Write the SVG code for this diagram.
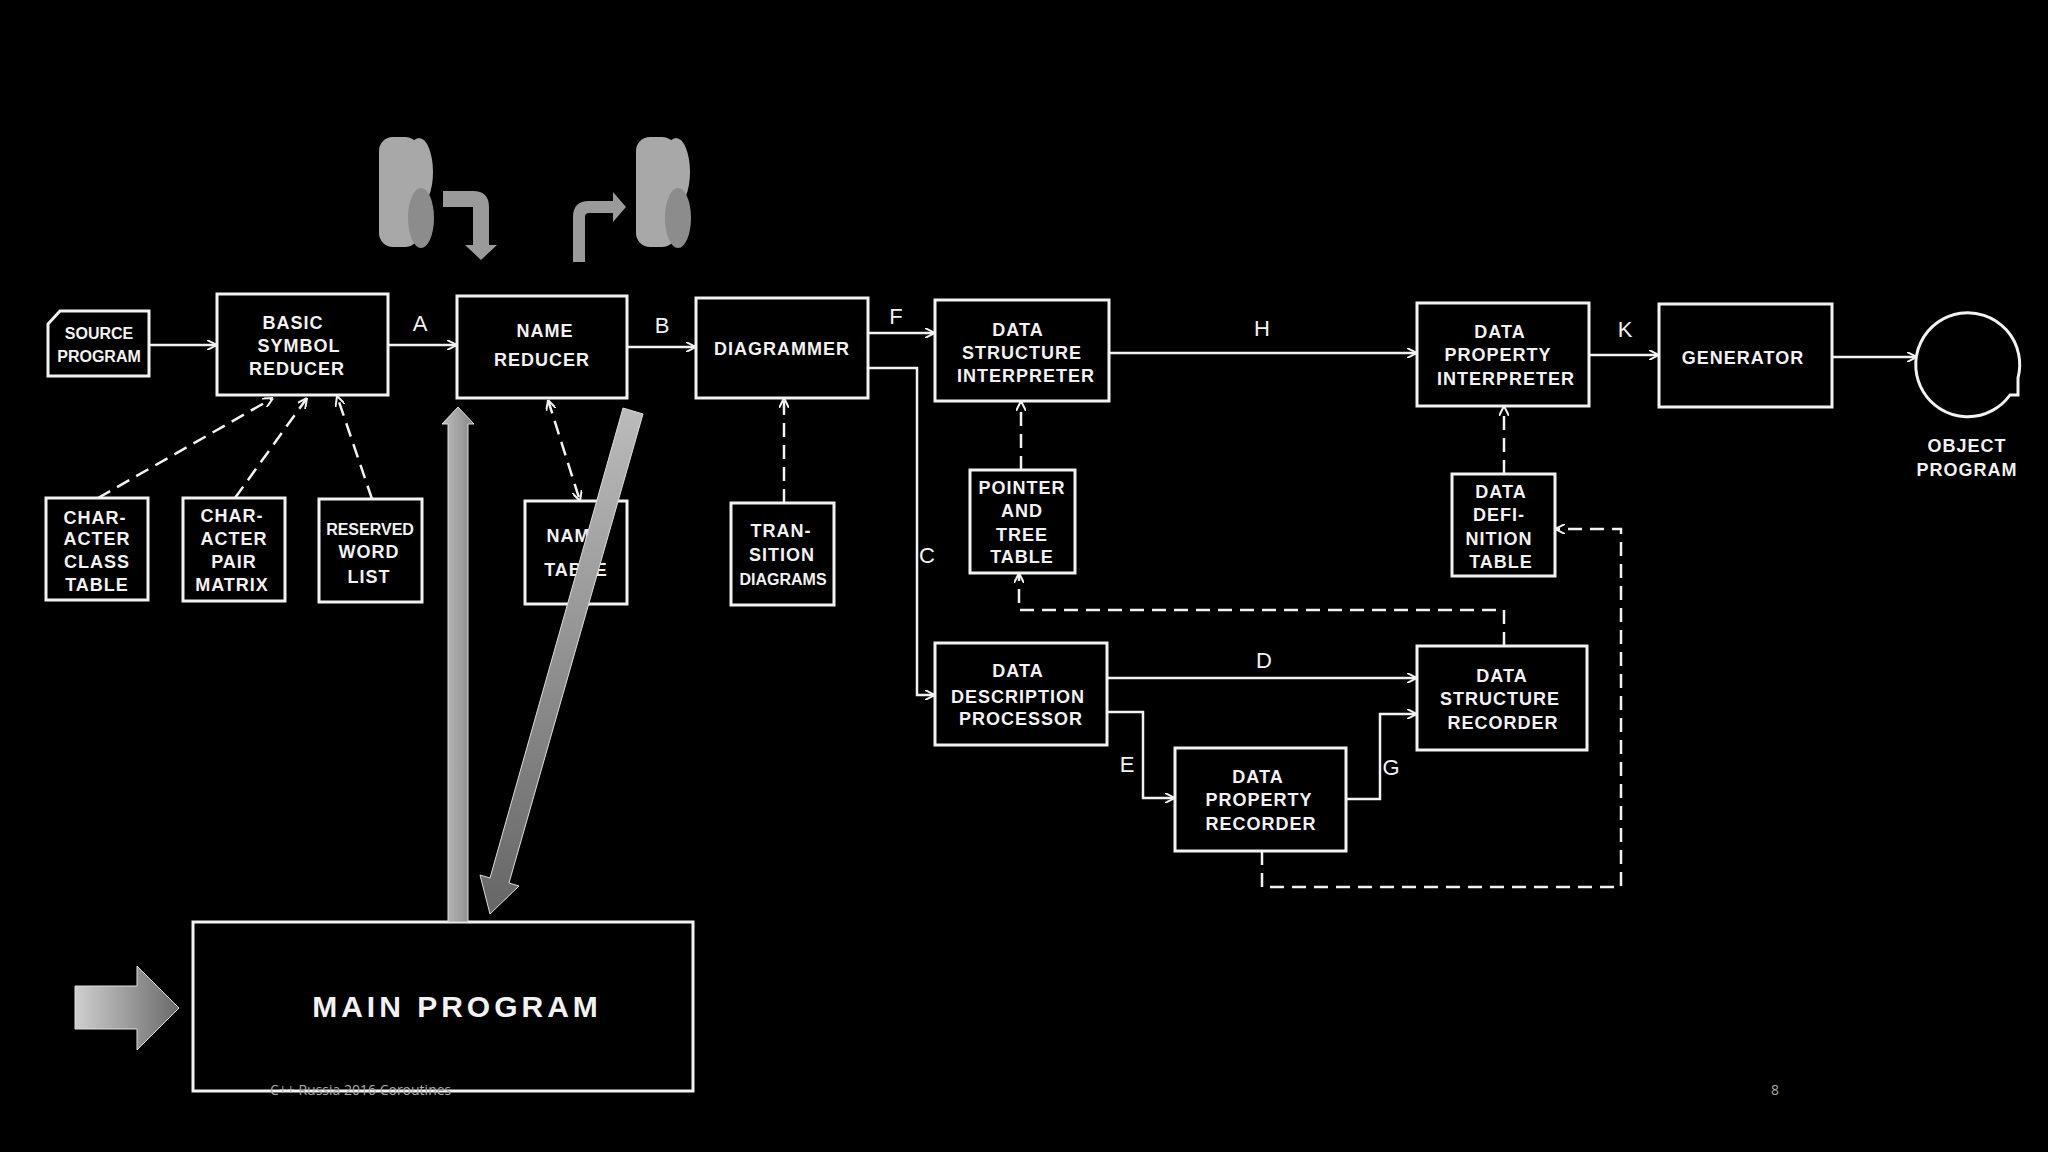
<svg xmlns="http://www.w3.org/2000/svg" width="2048" height="1152" viewBox="0 0 2048 1152">
<style>
.b{fill:#000;stroke:#f2f2f2;stroke-width:3}
.t{font-family:"Liberation Sans",Arial,sans-serif;font-weight:bold;font-size:18px;fill:#f2f2f2;text-anchor:middle;letter-spacing:1px}
.l{font-family:"Liberation Sans",Arial,sans-serif;font-size:22px;fill:#f2f2f2;text-anchor:middle}
.c{fill:none;stroke:#f2f2f2;stroke-width:2.5}
.d{stroke-dasharray:14 8}
</style>
<defs>
<marker id="a" viewBox="0 0 10 10" refX="10" refY="5" markerWidth="10" markerHeight="10" markerUnits="userSpaceOnUse" orient="auto-start-reverse"><path d="M0,0 L10,5 L0,10" fill="none" stroke="#f2f2f2" stroke-width="2"/></marker>
<linearGradient id="g1" x1="0" x2="1" y1="0" y2="0"><stop offset="0" stop-color="#cfcfcf"/><stop offset="1" stop-color="#6a6a6a"/></linearGradient>
<linearGradient id="g2" x1="0" x2="1" y1="0" y2="0"><stop offset="0" stop-color="#bdbdbd"/><stop offset="1" stop-color="#888"/></linearGradient>
<linearGradient id="g3" x1="0" x2="0" y1="0" y2="1"><stop offset="0" stop-color="#bbb"/><stop offset="1" stop-color="#666"/></linearGradient>
</defs>
<rect width="2048" height="1152" fill="#000"/>

<g id="tapes">
<g fill="#a8a8a8">
<rect x="379" y="137" width="40" height="110" rx="14"/>
<ellipse cx="419" cy="172" rx="14" ry="34"/>
<ellipse cx="421" cy="218" rx="13" ry="30" fill="#8c8c8c"/>
<rect x="636" y="137" width="40" height="110" rx="14"/>
<ellipse cx="676" cy="172" rx="14" ry="34"/>
<ellipse cx="678" cy="218" rx="13" ry="30" fill="#8c8c8c"/>
</g>
<path d="M443,191 H473 Q489,191 489,207 V245 H497 L481,260 L465,245 H473 V207 H443 Z" fill="#9a9a9a"/>
<path d="M573,262 V217 Q573,201 589,201 H613 V192 L626,207 L613,222 V213 H589 Q585,213 585,217 V262 Z" fill="#9a9a9a"/>
</g>

<g id="source"><path class="b" d="M60,311 H149 V376 H48 V324 Z"/><text class="t" x="99" y="339" style="font-size:16px;letter-spacing:0">SOURCE</text><text class="t" x="99" y="362" style="font-size:16px;letter-spacing:0">PROGRAM</text></g>
<g id="bsr"><rect class="b" x="217" y="294" width="171" height="101"/><text class="t" x="293" y="329">BASIC</text><text class="t" x="299" y="352">SYMBOL</text><text class="t" x="297" y="375">REDUCER</text></g>
<g id="nr"><rect class="b" x="457" y="296" width="170" height="102"/><text class="t" x="545" y="337">NAME</text><text class="t" x="542" y="366">REDUCER</text></g>
<g id="diag"><rect class="b" x="696" y="298" width="172" height="100"/><text class="t" x="782" y="355">DIAGRAMMER</text></g>
<g id="dsi"><rect class="b" x="935" y="300" width="174" height="101"/><text class="t" x="1018" y="336">DATA</text><text class="t" x="1022" y="359">STRUCTURE</text><text class="t" x="1026" y="382">INTERPRETER</text></g>
<g id="dpi"><rect class="b" x="1417" y="303" width="172" height="103"/><text class="t" x="1500" y="338">DATA</text><text class="t" x="1498" y="361">PROPERTY</text><text class="t" x="1506" y="385">INTERPRETER</text></g>
<g id="gen"><rect class="b" x="1659" y="304" width="173" height="103"/><text class="t" x="1743" y="364">GENERATOR</text></g>
<g id="obj"><path class="b" d="M2018,395 V378 A52,52 0 1 0 2010,395 Z"/><text class="t" x="1967" y="452">OBJECT</text><text class="t" x="1967" y="476">PROGRAM</text></g>

<g id="cct"><rect class="b" x="46" y="498" width="102" height="102"/><text class="t" x="95" y="524">CHAR-</text><text class="t" x="97" y="545">ACTER</text><text class="t" x="97" y="568">CLASS</text><text class="t" x="97" y="591">TABLE</text></g>
<g id="cpm"><rect class="b" x="183" y="498" width="102" height="103"/><text class="t" x="232" y="522">CHAR-</text><text class="t" x="234" y="545">ACTER</text><text class="t" x="234" y="568">PAIR</text><text class="t" x="232" y="591">MATRIX</text></g>
<g id="rwl"><rect class="b" x="319" y="499" width="103" height="103"/><text class="t" x="370" y="535" style="font-size:16px;letter-spacing:0">RESERVED</text><text class="t" x="369" y="558">WORD</text><text class="t" x="369" y="583">LIST</text></g>
<g id="nt"><rect class="b" x="525" y="501" width="102" height="103"/><text class="t" x="575" y="542">NAME</text><text class="t" x="576" y="576">TABLE</text></g>
<g id="td"><rect class="b" x="731" y="503" width="103" height="102"/><text class="t" x="781" y="537">TRAN-</text><text class="t" x="782" y="561">SITION</text><text class="t" x="783" y="585" style="font-size:16px;letter-spacing:0">DIAGRAMS</text></g>
<g id="ptt"><rect class="b" x="970" y="470" width="105" height="103"/><text class="t" x="1022" y="494">POINTER</text><text class="t" x="1022" y="517">AND</text><text class="t" x="1022" y="541">TREE</text><text class="t" x="1022" y="563">TABLE</text></g>
<g id="ddt"><rect class="b" x="1452" y="474" width="103" height="102"/><text class="t" x="1501" y="498">DATA</text><text class="t" x="1499" y="521">DEFI-</text><text class="t" x="1499" y="545">NITION</text><text class="t" x="1501" y="568">TABLE</text></g>
<g id="ddp"><rect class="b" x="935" y="643" width="172" height="102"/><text class="t" x="1018" y="677">DATA</text><text class="t" x="1018" y="703">DESCRIPTION</text><text class="t" x="1021" y="725">PROCESSOR</text></g>
<g id="dsr"><rect class="b" x="1417" y="646" width="170" height="104"/><text class="t" x="1502" y="682">DATA</text><text class="t" x="1500" y="705">STRUCTURE</text><text class="t" x="1503" y="729">RECORDER</text></g>
<g id="dpr"><rect class="b" x="1175" y="748" width="171" height="103"/><text class="t" x="1258" y="783">DATA</text><text class="t" x="1259" y="806">PROPERTY</text><text class="t" x="1261" y="830">RECORDER</text></g>

<g id="connectors">
<path class="c" marker-end="url(#a)" d="M149,345 H217"/>
<path class="c" marker-end="url(#a)" d="M388,345 H457"/>
<path class="c" marker-end="url(#a)" d="M627,347 H696"/>
<path class="c" marker-end="url(#a)" d="M868,333 H935"/>
<path class="c" marker-end="url(#a)" d="M868,368 H917 V695 H935"/>
<path class="c" marker-end="url(#a)" d="M1109,353 H1417"/>
<path class="c" marker-end="url(#a)" d="M1589,355 H1659"/>
<path class="c" marker-end="url(#a)" d="M1832,357 H1917"/>
<path class="c" marker-end="url(#a)" d="M1107,678 H1417"/>
<path class="c" marker-end="url(#a)" d="M1107,712 H1143 V798 H1175"/>
<path class="c" marker-end="url(#a)" d="M1346,799 H1380 V714 H1417"/>
<path class="c d" marker-end="url(#a)" d="M98,498 L273,398"/>
<path class="c d" marker-end="url(#a)" d="M235,498 L307,398"/>
<path class="c d" marker-end="url(#a)" d="M372,499 L337,396"/>
<path class="c d" marker-start="url(#a)" marker-end="url(#a)" d="M548,400 L580,501"/>
<path class="c d" marker-end="url(#a)" d="M784,503 V398"/>
<path class="c d" marker-end="url(#a)" d="M1021,470 V401"/>
<path class="c d" marker-end="url(#a)" d="M1504,474 V406"/>
<path class="c d" marker-end="url(#a)" d="M1504,646 V610 H1019 V573"/>
<path class="c d" marker-end="url(#a)" d="M1262,851 V887 H1621 V529 H1555"/>
<text class="l" x="420" y="331">A</text>
<text class="l" x="662" y="333">B</text>
<text class="l" x="896" y="324">F</text>
<text class="l" x="1262" y="336">H</text>
<text class="l" x="1625" y="337">K</text>
<text class="l" x="927" y="563">C</text>
<text class="l" x="1264" y="668">D</text>
<text class="l" x="1127" y="772">E</text>
<text class="l" x="1391" y="775">G</text>
</g>

<g id="main"><rect class="b" x="193" y="922" width="500" height="169" stroke-width="4"/><text x="457" y="1017" style="font-family:'Liberation Sans',Arial,sans-serif;font-weight:bold;font-size:30px;fill:#f2f2f2;text-anchor:middle;letter-spacing:4px">MAIN  PROGRAM</text></g>

<g id="big-arrows">
<path d="M448,922 V424 H442 L458,407 L474,424 H468 V922 Z" fill="url(#g2)" stroke="#ddd" stroke-width="1"/>
<path d="M623,408 L490,878 L480,875 L490,914 L519,886 L509,883 L643,414 Z" fill="url(#g3)" stroke="#ddd" stroke-width="1"/>
<path d="M75,986 H137 V966 L179,1008 L137,1050 V1029 H75 Z" fill="url(#g1)" stroke="#ddd" stroke-width="1"/>
</g>

<g id="footer">
<text x="270" y="1095" style="font-family:'Open Sans','Liberation Sans',sans-serif;font-size:14px;fill:#aaa">C++ Russia 2016 Coroutines</text>
<text x="1771" y="1095" style="font-family:'Open Sans','Liberation Sans',sans-serif;font-size:14px;fill:#aaa">8</text>
</g>
</svg>
